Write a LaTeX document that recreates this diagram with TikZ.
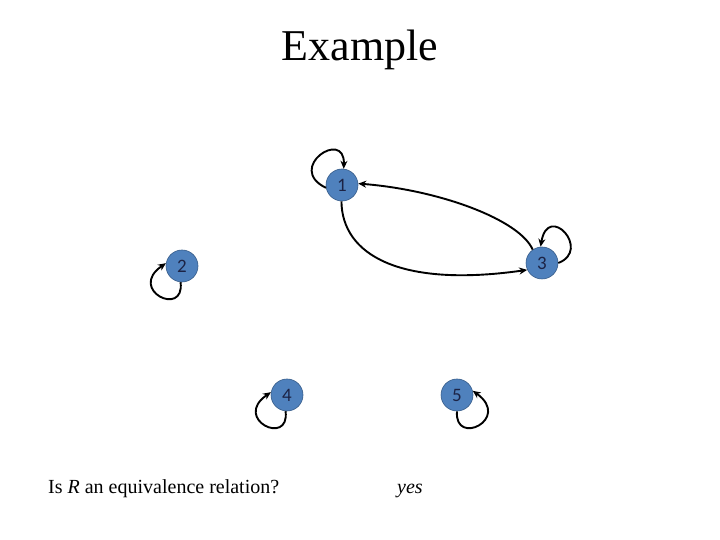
\documentclass[tikz,border=0pt]{standalone}
\usepackage{fontspec}
\setmainfont{Liberation Serif}
\newfontfamily\nodefont{Carlito}
\usetikzlibrary{arrows.meta}
\definecolor{nodefill}{HTML}{4F81BD}
\definecolor{nodeline}{HTML}{385D8A}
\definecolor{nodetext}{HTML}{1C2345}
\tikzset{
  vertex/.style={circle, fill=nodefill, draw=nodeline, line width=0.6pt, minimum size=32pt, inner sep=0pt, text=nodetext},
  vlabel/.style={font=\nodefont\fontsize{19}{19}\selectfont},
  rel/.style={line width=1.9pt, -{Stealth[length=8pt,width=7pt]}}
}
\begin{document}
\begin{tikzpicture}[x=1pt,y=1pt]
\useasboundingbox (0,0) rectangle (720,540);
\node[font=\fontsize{44}{44}\selectfont] (title) at (360,490) {Example};
\node[vertex, vlabel] (n1) at (342,355) {1};
\node[vertex, vlabel] (n2) at (182,274) {2};
\node[vertex, vlabel] (n3) at (542,277) {3};
\node[vertex, vlabel] (n4) at (287,145) {4};
\node[vertex, vlabel] (n5) at (457,145) {5};
% loops
\draw[rel] (n1.190) .. controls (285,372) and (345,412) .. (n1.84);
\draw[rel] (n3.0) .. controls (592,290) and (548,338) .. (n3.95);
\draw[rel] (n2.265) .. controls (185,222) and (127,250) .. (n2.170);
\draw[rel] (n4.265) .. controls (290,93) and (232,121) .. (n4.170);
\draw[rel] (n5.270) .. controls (454,93) and (512,121) .. (n5.15);
% edges
\draw[rel] (n3.125) .. controls (520,320) and (440,350) .. (n1.5);
\draw[rel] (n1.268) .. controls (342,285) and (400,252) .. (n3.205);
% texts
\node[anchor=base west, font=\fontsize{20}{20}\selectfont, inner sep=0pt] (q) at (48,46) {Is \textit{R} an equivalence relation?};
\node[anchor=base west, font=\fontsize{20}{20}\selectfont\itshape, inner sep=0pt] (a) at (397,46) {yes};
\end{tikzpicture}
\end{document}
